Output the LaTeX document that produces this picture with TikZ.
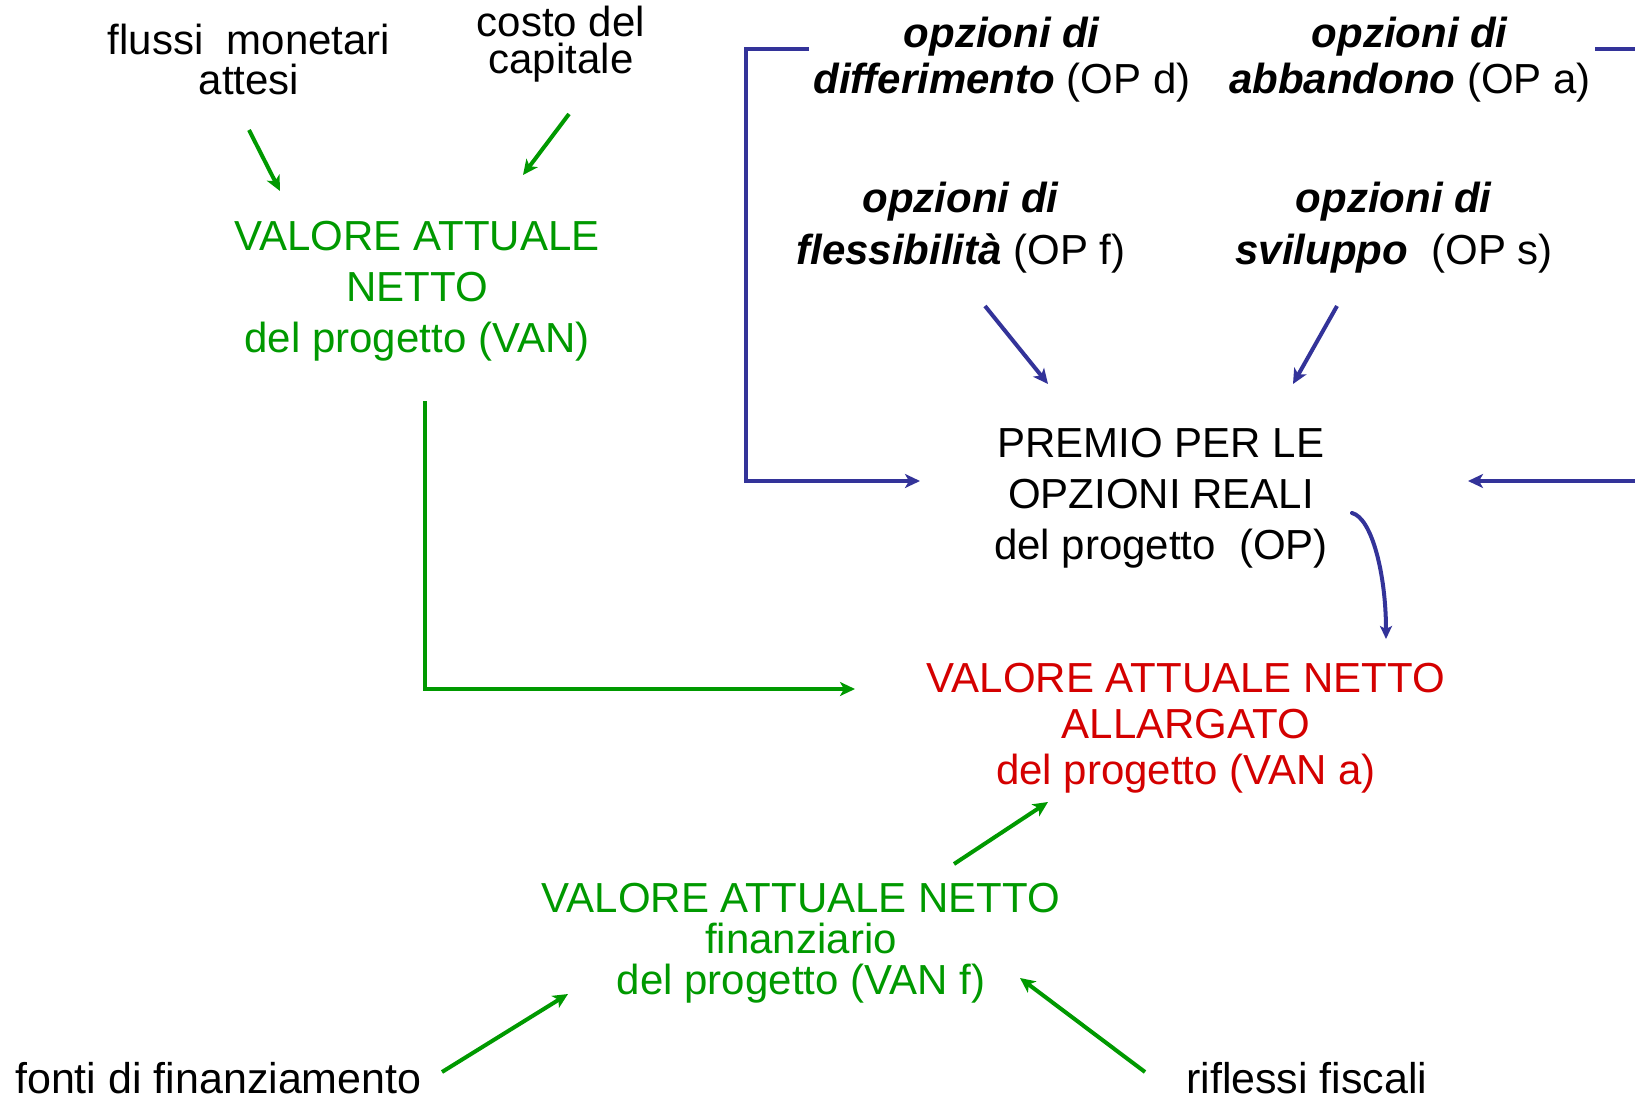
\documentclass[tikz,border=0pt]{standalone}
\usepackage{fontspec}
\setmainfont{Liberation Sans}
\usetikzlibrary{arrows.meta}
\definecolor{vgreen}{HTML}{009900}
\definecolor{vblue}{HTML}{333399}
\definecolor{vred}{HTML}{D40000}
\tikzset{
  txt/.style={inner sep=0pt, align=center, font=\fontsize{42}{#1}\selectfont},
  txtb/.style={inner sep=0pt, font=\fontsize{43}{48}\selectfont},
  tip/.style={-{Stealth[length=15pt,width=14pt,inset=4pt]}},
  garrow/.style={vgreen, line width=4pt, tip},
  barrow/.style={vblue, line width=4pt, tip},
}
\newcommand{\bi}[1]{\textbf{\textit{#1}}}
\begin{document}
\begin{tikzpicture}[x=1pt,y=-1pt]
\useasboundingbox[fill=white] (0,0) rectangle (1635,1099);

% text nodes
\node[txt=40] (flussi) at (249,59) {flussi\ \ monetari\\attesi};
\node[txt=37] (costo) at (561,44) {costo del\\capitale};
\node[txt=51, text=vgreen] (van) at (417,291) {VALORE ATTUALE\\NETTO\\del progetto (VAN)};
\node[txt=46] (opd) at (1002,60) {\bi{opzioni di}\\\bi{differimento} (OP d)};
\node[txt=46] (opa) at (1410,60) {\bi{opzioni di}\\\bi{abbandono} (OP a)};
\node[txt=52] (opf) at (961,228) {\bi{opzioni di}\\\bi{flessibilità} (OP f)};
\node[txt=52] (ops) at (1394,228) {\bi{opzioni di}\\\bi{sviluppo}\ \ (OP s)};
\node[txt=51] (premio) at (1161,498) {PREMIO PER LE\\OPZIONI REALI\\del progetto\ \ (OP)};
\node[txt=46, text=vred] (vana) at (1186,728) {VALORE ATTUALE NETTO\\ALLARGATO\\del progetto (VAN a)};
\node[txt=41, text=vgreen] (vanf) at (801,943) {VALORE ATTUALE NETTO\\finanziario\\del progetto (VAN f)};
\node[txtb, anchor=base west] (fonti) at (15,1093) {fonti di finanziamento};
\node[txtb, anchor=base west] (rifl) at (1186,1093) {riflessi fiscali};

% connector end points
\coordinate (flussiA) at (249,130);
\coordinate (vanA) at (280,191);
\coordinate (costoA) at (569,114);
\coordinate (vanB) at (523,175);
\coordinate (vanC) at (425,401);
\coordinate (vanaA) at (855,689);
\coordinate (opdA) at (809,49);
\coordinate (premioA) at (920,481);
\coordinate (opaA) at (1595,49);
\coordinate (offR) at (1660,49);
\coordinate (premioB) at (1468,481);
\coordinate (opfA) at (985,306);
\coordinate (premioC) at (1048,384);
\coordinate (opsA) at (1337,306);
\coordinate (premioD) at (1293,384);
\coordinate (premioE) at (1352,513);
\coordinate (vanaB) at (1386,639);
\coordinate (vanfA) at (954,864);
\coordinate (vanaC) at (1048,802);
\coordinate (fontiA) at (442,1072);
\coordinate (vanfB) at (568,994);
\coordinate (riflA) at (1145,1072);
\coordinate (vanfC) at (1020,978);

% green connectors
\draw[garrow] (flussiA) -- (vanA);
\draw[garrow] (costoA) -- (vanB);
\draw[garrow] (vanC) |- (vanaA);
\draw[garrow] (vanfA) -- (vanaC);
\draw[garrow] (fontiA) -- (vanfB);
\draw[garrow] (riflA) -- (vanfC);

% blue connectors
\draw[barrow] (opdA) -- (746,49) |- (premioA);
\draw[barrow] (opaA) -- (offR) |- (premioB);
\draw[barrow] (opfA) -- (premioC);
\draw[barrow] (opsA) -- (premioD);
\draw[vblue, line width=4pt, line cap=round, -{Stealth[length=13pt,width=12pt,inset=3pt]}]
  (premioE) .. controls (1372,518) and (1386,575) .. (vanaB);
\end{tikzpicture}
\end{document}
